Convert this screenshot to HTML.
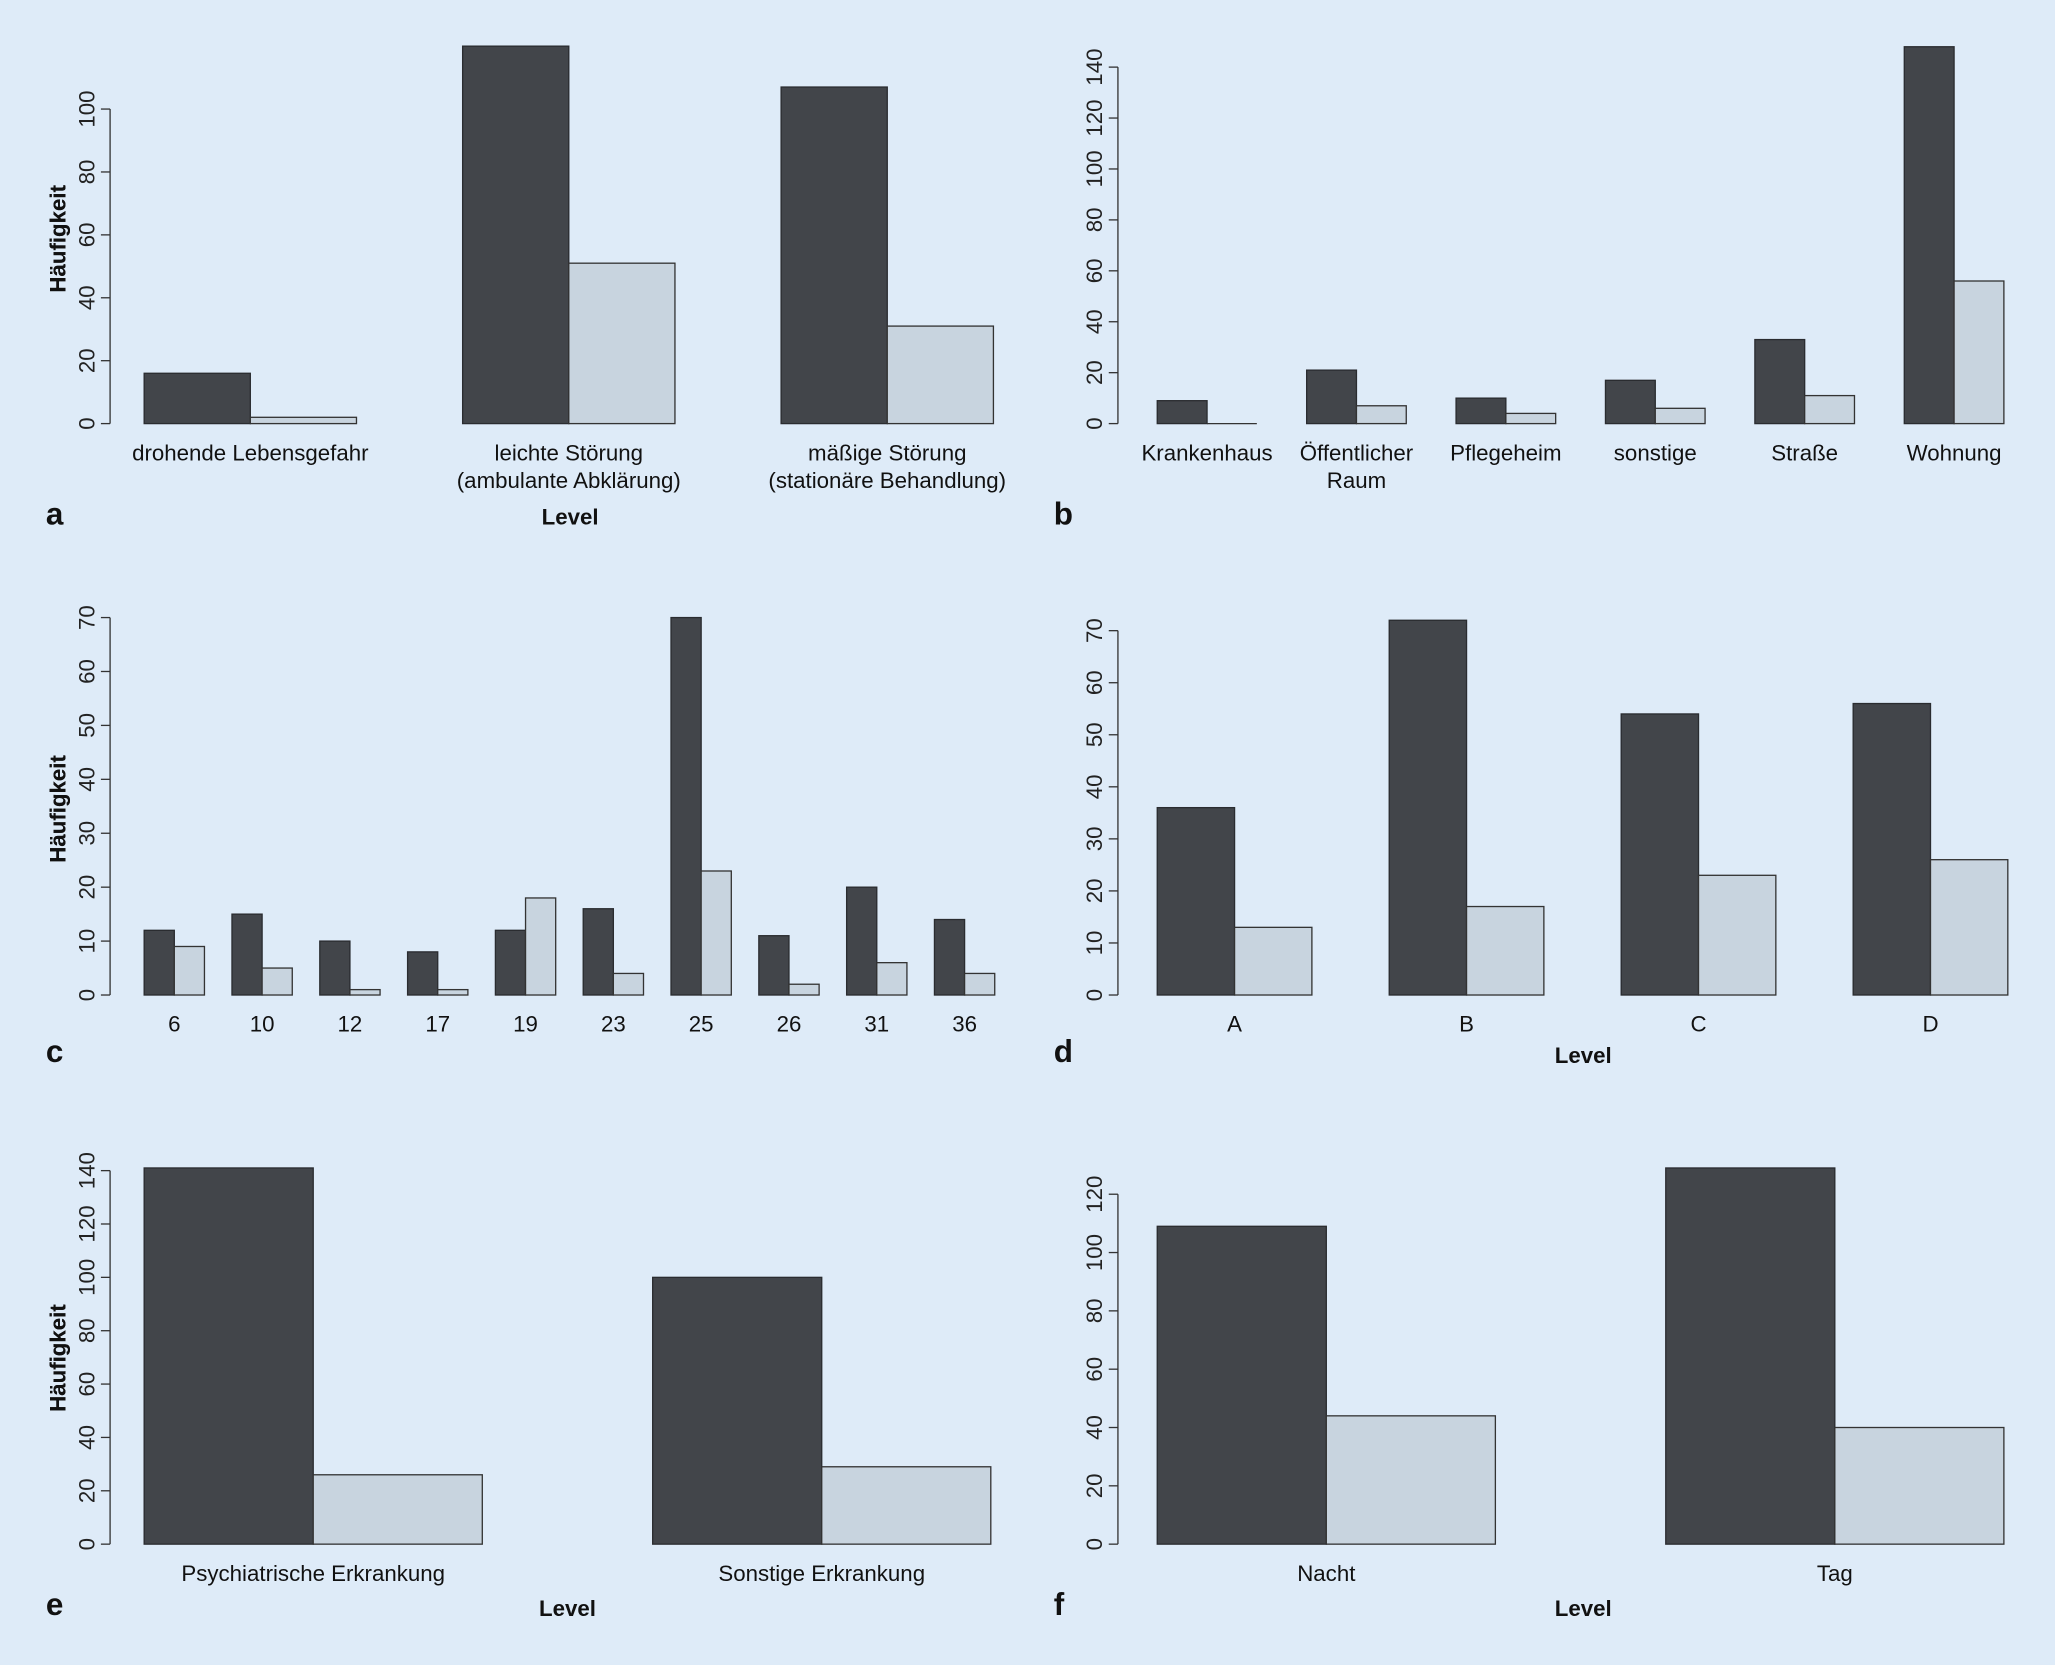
<!DOCTYPE html>
<html><head><meta charset="utf-8">
<style>
html,body{margin:0;padding:0;background:#deebf8;}
svg{display:block;font-family:"Liberation Sans",sans-serif;}
</style></head>
<body>
<svg id="fig" width="2055" height="1665" viewBox="0 0 1568 1270" xmlns="http://www.w3.org/2000/svg">
<rect x="0" y="0" width="1568" height="1270" fill="#deebf8"/>
</svg>
<script>
// Panel a
const aCategories = [["drohende Lebensgefahr"],["leichte Störung","(ambulante Abklärung)"],["mäßige Störung","(stationäre Behandlung)"]];
const aDark = [16,120,107];
const aLight = [2,51,31];
const aTicks = [0,20,40,60,80,100];
// Panel b
const bCategories = [["Krankenhaus"],["Öffentlicher","Raum"],["Pflegeheim"],["sonstige"],["Straße"],["Wohnung"]];
const bDark = [9,21,10,17,33,148];
const bLight = [0,7,4,6,11,56];
const bTicks = [0,20,40,60,80,100,120,140];
// Panel c
const cCategories = [["6"],["10"],["12"],["17"],["19"],["23"],["25"],["26"],["31"],["36"]];
const cDark = [12,15,10,8,12,16,70,11,20,14];
const cLight = [9,5,1,1,18,4,23,2,6,4];
const cTicks = [0,10,20,30,40,50,60,70];
// Panel d
const dCategories = [["A"],["B"],["C"],["D"]];
const dDark = [36,72,54,56];
const dLight = [13,17,23,26];
const dTicks = [0,10,20,30,40,50,60,70];
// Panel e
const eCategories = [["Psychiatrische Erkrankung"],["Sonstige Erkrankung"]];
const eDark = [141,100];
const eLight = [26,29];
const eTicks = [0,20,40,60,80,100,120,140];
// Panel f
const fCategories = [["Nacht"],["Tag"]];
const fDark = [109,129];
const fLight = [44,40];
const fTicks = [0,20,40,60,80,100,120];

const NS = "http://www.w3.org/2000/svg";
const svg = document.getElementById('fig');
function mk(tag, attrs, parent, text){
  const e = document.createElementNS(NS, tag);
  for (const k in attrs) e.setAttribute(k, attrs[k]);
  if (text !== undefined) e.textContent = text;
  (parent||svg).appendChild(e);
  return e;
}

function panel(id, cfg, cats, dark, light, ticks){
  const g = mk('g', {});
  
  
  const yScale = v => cfg.y0 - v * (cfg.y0 - cfg.yTop) / cfg.vTop;
  const ax = mk('g', {}, g);
  
  
  const tMax = ticks[ticks.length-1];
  mk('line', {x1:cfg.ax, x2:cfg.ax, y1:yScale(0), y2:yScale(tMax), stroke:'#333', 'stroke-width':1}, ax);
  ticks.forEach(t => {
    const y = yScale(t);
    const tl = mk('line', {x1:cfg.ax-7, x2:cfg.ax, y1:y, y2:y, stroke:'#333', 'stroke-width':1}, ax);
    
    
    const tx = mk('text', {x:0, y:0, transform:`translate(${cfg.ax-12},${y}) rotate(-90)`, 'text-anchor':'middle', 'font-size':17, fill:'#222'}, ax, String(t));
    
    
  });
  const yt = mk('text', {transform:`translate(50,${cfg.ylabY}) rotate(-90)`, 'text-anchor':'middle', 'font-size':17, 'font-weight':'bold', fill:'#111'}, g, 'Häufigkeit');
  
  
  cats.forEach((c, i) => {
    const x = cfg.x0 + i * cfg.step;
    const bd = mk('rect', {x:x, y:yScale(dark[i]), width:cfg.bw, height:yScale(0)-yScale(dark[i]), fill:'#42454a', stroke:'#2a2c30', 'stroke-width':1}, g);
    
    
    const bl = mk('rect', {x:x+cfg.bw, y:yScale(light[i]), width:cfg.bw, height:yScale(0)-yScale(light[i]), fill:'#c8d4df', stroke:'#333', 'stroke-width':1}, g);
    
    
    if (light[i] === 0) {
      const zl = mk('line', {x1:x+cfg.bw, x2:x+2*cfg.bw, y1:yScale(0), y2:yScale(0), stroke:'#333', 'stroke-width':1}, g);
      
      
    }
    c.forEach((line, j) => {
      const t = mk('text', {x:x+cfg.bw, y:cfg.y0+28+j*21, 'text-anchor':'middle', 'font-size':17, fill:'#111'}, g, line);
      
      
    });
  });
  if (cfg.level) {
    const lv = mk('text', {x:cfg.level[0], y:cfg.level[1], 'text-anchor':'middle', 'font-size':17, 'font-weight':'bold', fill:'#111'}, g, 'Level');
    
    
  }
  const pl = mk('text', {x:cfg.letter[0], y:cfg.letter[1], 'font-size':24, 'font-weight':'bold', fill:'#111'}, g, id);
  
  
}

panel('a', {ax:84, y0:323, yTop:83, vTop:100, x0:110, step:243, bw:81, ylabY:182, level:[435,400], letter:[35,400]}, aCategories, aDark, aLight, aTicks);
panel('b', {ax:853, y0:323, yTop:51, vTop:140, x0:883, step:114, bw:38, ylabY:182, letter:[804,400]}, bCategories, bDark, bLight, bTicks);
panel('c', {ax:84, y0:759, yTop:471, vTop:70, x0:110, step:67, bw:23, ylabY:617, letter:[35,810]}, cCategories, cDark, cLight, cTicks);
panel('d', {ax:853, y0:759, yTop:481, vTop:70, x0:883, step:177, bw:59, ylabY:617, level:[1208,811], letter:[804,810]}, dCategories, dDark, dLight, dTicks);
panel('e', {ax:84, y0:1178, yTop:893, vTop:140, x0:110, step:388, bw:129, ylabY:1036, level:[433,1233], letter:[35,1232]}, eCategories, eDark, eLight, eTicks);
panel('f', {ax:853, y0:1178, yTop:911, vTop:120, x0:883, step:388, bw:129, ylabY:1036, level:[1208,1233], letter:[804,1232]}, fCategories, fDark, fLight, fTicks);
</script>
</body></html>
